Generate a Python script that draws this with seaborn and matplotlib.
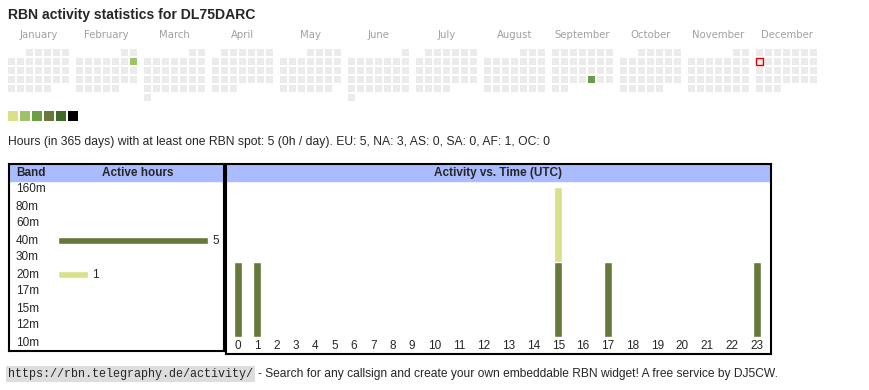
import numpy as np
import pandas as pd
import matplotlib
matplotlib.use('Agg')
import matplotlib.pyplot as plt
import matplotlib.transforms as mtransforms
from matplotlib.colors import ListedColormap
from matplotlib.patches import Rectangle
import seaborn as sns

sns.set_style('white')
plt.rcParams['font.family'] = ['Liberation Sans', 'DejaVu Sans']

# ---- data ----
callsign = 'DL75DARC'
year = 2025
months = ['January', 'February', 'March', 'April', 'May', 'June', 'July',
          'August', 'September', 'October', 'November', 'December']
active_days = ['2025-02-09', '2025-09-26']
active_levels = [2, 3]
today = '2025-12-08'
level_colors = ['#ebebeb', '#d9e08a', '#9dc26a', '#6a9e45', '#66793a', '#3e6b27', '#000000']

bands = ['160m', '80m', '60m', '40m', '30m', '20m', '17m', '15m', '12m', '10m']
band_hours = [0, 0, 0, 5, 0, 1, 0, 0, 0, 0]
band_colors = ['#8c6bb1', '#4a78b8', '#5fa2c8', '#66793a', '#e0a030', '#d9e08a',
               '#c85a5a', '#7fb8a0', '#b07aa1', '#9e6b4a']

hours = list(range(24))
act_40m = [1, 1, 0, 0, 0, 0, 0, 0, 0, 0, 0, 0, 0, 0, 0, 1, 0, 1, 0, 0, 0, 0, 0, 1]
act_20m = [0, 0, 0, 0, 0, 0, 0, 0, 0, 0, 0, 0, 0, 0, 0, 1, 0, 0, 0, 0, 0, 0, 0, 0]

total_hours = 5
per_day = 0
continents = ['EU', 'NA', 'AS', 'SA', 'AF', 'OC']
cont_hours = [5, 3, 0, 0, 1, 0]

url = 'https://rbn.telegraphy.de/activity/'
footer = '- Search for any callsign and create your own embeddable RBN widget! A free service by DJ5CW.'

W, H = 870, 390
fig = plt.figure(figsize=(W / 100, H / 100), dpi=100)


def px_ax(x0, y0, x1, y1):
    # axes placed in pixel coordinates (top-left origin)
    return fig.add_axes([x0 / W, 1 - y1 / H, (x1 - x0) / W, (y1 - y0) / H])


def px_text(x, y, s, **kw):
    return fig.text(x / W, 1 - y / H, s, **kw)


px_text(8, 15.5, f'RBN activity statistics for {callsign}', fontsize=10.1,
        weight='bold', va='center')

# ---- calendar ----
cal_cmap = ListedColormap(level_colors)
lvl = pd.Series(active_levels, index=pd.to_datetime(active_days))
today_ts = pd.Timestamp(today)
for m, name in enumerate(months):
    first = pd.Timestamp(year=year, month=m + 1, day=1)
    days = pd.date_range(first, periods=first.days_in_month)
    offset = first.dayofweek
    grid = np.full((6, 7), np.nan)
    for d in days:
        r, c = divmod(d.day - 1 + offset, 7)
        grid[r, c] = lvl.get(d, 0)
    ax = px_ax(7 + 68 * m, 48, 70 + 68 * m, 102)
    sns.heatmap(grid, mask=np.isnan(grid), cmap=cal_cmap, vmin=-0.5, vmax=6.5,
                cbar=False, linewidths=1.44, linecolor='white',
                xticklabels=False, yticklabels=False, ax=ax)
    ax.text(3.5, -1.45, name, ha='center', va='center', fontsize=7.3,
            color='#a0a0a0', family='DejaVu Sans')
    if today_ts.month == m + 1:
        r, c = divmod(today_ts.day - 1 + offset, 7)
        ax.add_patch(Rectangle((c + 0.1, r + 0.1), 0.8, 0.8, fill=False,
                               edgecolor='#e00000', lw=1.0, clip_on=False))

# level legend
ax = px_ax(7, 110, 79, 122)
sns.heatmap(np.arange(1, 7).reshape(1, 6), cmap=cal_cmap, vmin=-0.5, vmax=6.5,
            cbar=False, linewidths=1.44, linecolor='white',
            xticklabels=False, yticklabels=False, ax=ax)

stats = (f'Hours (in 365 days) with at least one RBN spot: {total_hours} '
         f'({per_day}h / day). '
         + ', '.join(f'{c}: {v}' for c, v in zip(continents, cont_hours)))
px_text(8, 142, stats, fontsize=8.75, va='center')


def framed_box(x0, y0, x1, y1):
    b = px_ax(x0, y0, x1, y1)
    b.set_xlim(x0, x1)
    b.set_ylim(y1, y0)
    b.set_xticks([])
    b.set_yticks([])
    b.axhspan(y0, 181, color='#aabbff', zorder=0)
    for s in b.spines.values():
        s.set_visible(True)
        s.set_color('black')
        s.set_linewidth(1.5)
    return b


# ---- band table ----
box = framed_box(9, 164.3, 224, 351.3)
box.text(16, 173, 'Band', weight='bold', fontsize=8.5, va='center')
box.text(138, 173, 'Active hours', weight='bold', fontsize=8.5, va='center', ha='center')

ax = px_ax(10, 181, 223, 351)
ax.patch.set_alpha(0)
sns.barplot(x=band_hours, y=bands, hue=bands, palette=band_colors, legend=False,
            orient='h', width=0.47, saturation=1, ax=ax)
ax.set_xlim((10 - 58) / 30, (223 - 58) / 30)
ax.set_ylim(9.5, -0.5)
ax.axis('off')
trans = mtransforms.blended_transform_factory(ax.transAxes, ax.transData)
for i, (b, v) in enumerate(zip(bands, band_hours)):
    ax.text(6 / 213, i, b, transform=trans, va='center', fontsize=8.5)
    if v > 0:
        ax.text(v + 4 / 30, i, str(v), va='center', fontsize=8.5)

# ---- activity vs time ----
box2 = framed_box(225.7, 164.3, 770.7, 354)
box2.text(498, 173, 'Activity vs. Time (UTC)', weight='bold', fontsize=8.5,
          va='center', ha='center')

col_w = np.array([13.9 + 5.4 * len(str(h)) for h in hours])
pos = np.cumsum(col_w) - col_w / 2
total = np.array(act_40m) + np.array(act_20m)

ax = px_ax(228, 187, 769, 337)
ax.patch.set_alpha(0)
bw = 8 / col_w.min()
sns.barplot(x=pos, y=total, native_scale=True, color=band_colors[5],
            saturation=1, width=bw, errorbar=None, ax=ax)
sns.barplot(x=pos, y=act_40m, native_scale=True, color=band_colors[3],
            saturation=1, width=bw, errorbar=None, ax=ax)
ax.set_xlim(0, col_w.sum())
ax.set_ylim(0, total.max())
ax.set_xticks(pos)
ax.set_xticklabels([str(h) for h in hours], fontsize=8.5)
ax.tick_params(axis='x', length=0, pad=2.5)
ax.set_yticks([])
ax.set_xlabel('')
ax.set_ylabel('')
sns.despine(ax=ax, left=True, bottom=True)

# ---- footer ----
t_url = px_text(8, 374, url, family='Liberation Mono', fontsize=8.5, va='center',
                bbox=dict(facecolor='#dddddd', edgecolor='none', pad=1.2))
fig.canvas.draw()
ext = t_url.get_window_extent()
px_text(ext.x1 + 5, 374, footer, fontsize=8.65, va='center')

fig.savefig('out.png', dpi=100)
